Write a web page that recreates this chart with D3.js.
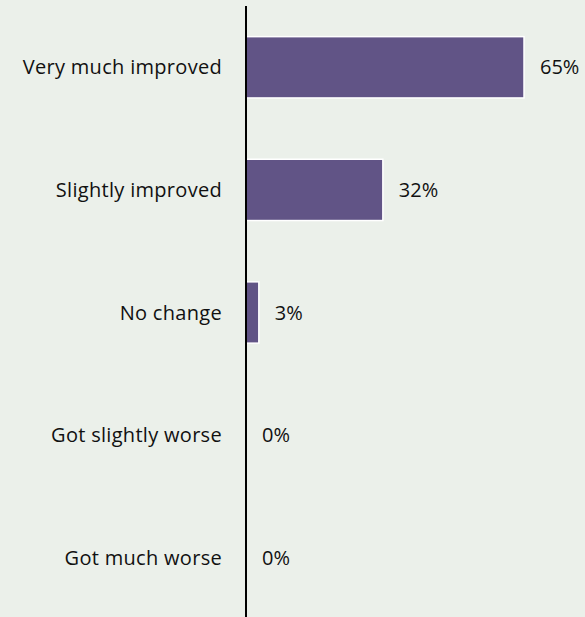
<!DOCTYPE html>
<html>
<head>
<meta charset="utf-8">
<script src="https://cdn.jsdelivr.net/npm/d3@7"></script>
<style>
  html, body { margin: 0; padding: 0; background: #ebf0ea; }
  text { font-family: "Open Sans", "Liberation Sans", sans-serif; fill: #111; }
</style>
</head>
<body>
<div id="chart"></div>
<script>
const categories = [
  "Very much improved",
  "Slightly improved",
  "No change",
  "Got slightly worse",
  "Got much worse",
];
const values = [65, 32, 3, 0, 0];
const valueLabels = ["65%", "32%", "3%", "0%", "0%"];

const width = 585;
const height = 617;
const axisX = 246;

const svg = d3
  .select("#chart")
  .append("svg")
  .attr("width", width)
  .attr("height", height);

svg.append("rect").attr("width", width).attr("height", height).attr("fill", "#ebf0ea");

const xScale = d3.scaleLinear().domain([0, 65]).range([axisX, 524]);

const yScale = d3
  .scaleBand()
  .domain(categories)
  .range([6, 619])
  .paddingInner(0.5)
  .paddingOuter(0.25);

const rows = categories.map((c, i) => ({ cat: c, value: values[i], label: valueLabels[i] }));

svg
  .selectAll(".bar")
  .data(rows.filter((d) => d.value > 0))
  .enter()
  .append("rect")
  .attr("class", "bar")
  .attr("x", xScale(0))
  .attr("y", (d) => yScale(d.cat))
  .attr("width", (d) => xScale(d.value) - xScale(0))
  .attr("height", yScale.bandwidth())
  .attr("fill", "#615486")
  .attr("stroke", "#ffffff")
  .attr("stroke-width", 1.5);

// value labels
svg
  .selectAll(".value")
  .data(rows)
  .enter()
  .append("text")
  .attr("class", "value")
  .attr("x", (d) => xScale(d.value) + 16)
  .attr("y", (d) => yScale(d.cat) + yScale.bandwidth() / 2)
  .attr("dy", "0.35em")
  .attr("font-size", 20)
  .text((d) => d.label);

// category labels
svg
  .selectAll(".cat")
  .data(rows)
  .enter()
  .append("text")
  .attr("class", "cat")
  .attr("x", axisX - 24)
  .attr("y", (d) => yScale(d.cat) + yScale.bandwidth() / 2)
  .attr("dy", "0.35em")
  .attr("text-anchor", "end")
  .attr("font-size", 20)
  .attr("letter-spacing", 0.3)
  .text((d) => d.cat);

// vertical axis line
svg
  .append("line")
  .attr("x1", axisX)
  .attr("x2", axisX)
  .attr("y1", 6)
  .attr("y2", height)
  .attr("stroke", "#000")
  .attr("stroke-width", 2);
</script>
</body>
</html>
